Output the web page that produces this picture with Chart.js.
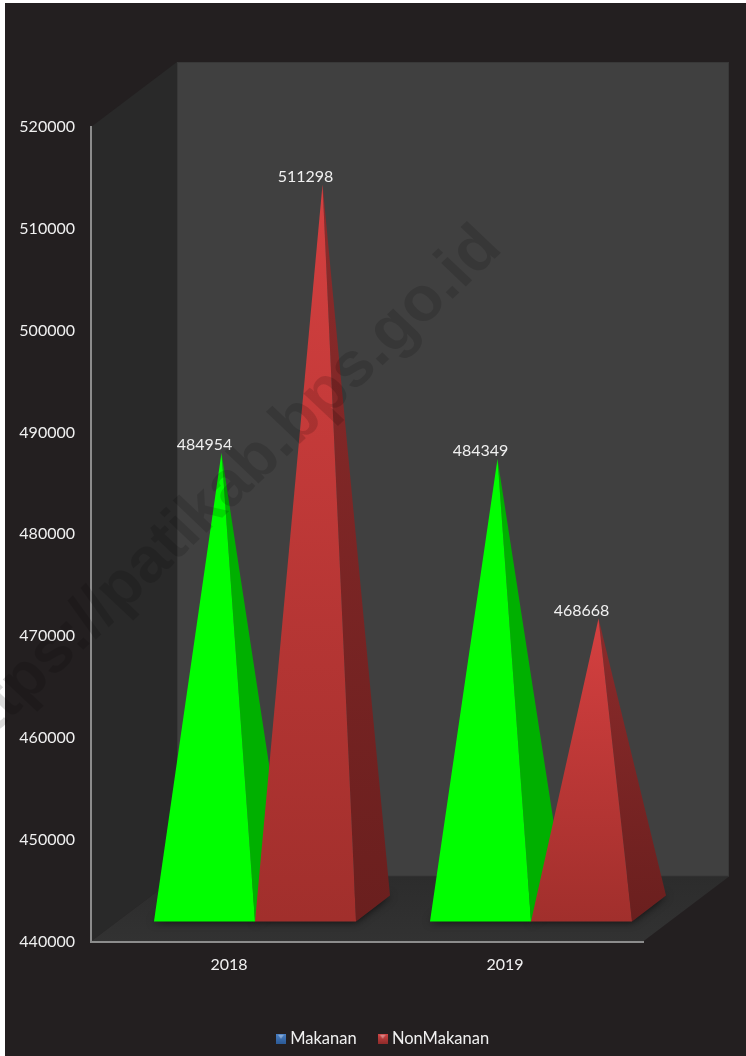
<!DOCTYPE html>
<html lang="en">
<head>
    <meta charset="UTF-8">
    <title>Makanan / NonMakanan</title>
    <script src="https://cdn.jsdelivr.net/npm/chart.js"></script>
    <style>
        html, body { margin: 0; padding: 0; background: #fff; }
        canvas { display: block; }
    </style>
</head>
<body>
    <canvas id="chart" width="746" height="1056"></canvas>
    <script>
        const categories = ['2018', '2019'];
        const makanan = [484954, 484349];
        const nonMakanan = [511298, 468668];
        const seriesNames = ['Makanan', 'NonMakanan'];
        const yTicks = { min: 440000, max: 520000, step: 10000 };

        // 3D look of the box and the pyramids, in px
        const WALL_DX = 86, WALL_DY = 65;
        const FLOOR_GAP_X = 26, FLOOR_GAP_Y = 20;
        const BASE_DX = 34, BASE_DY = 26;
        const APEX_DROP = 31;

        const textColor = '#f0f0f0';
        const looks = [
            { front: ['#00ff00', '#00ff00'], side: ['#00b000', '#00b000'] },
            { front: ['#d54040', '#a12f2c'], side: ['#8c2b2b', '#6a1f1e'] }
        ];

        const poly = (ctx, pts) => {
            ctx.beginPath();
            pts.forEach((p, i) => i ? ctx.lineTo(p[0], p[1]) : ctx.moveTo(p[0], p[1]));
            ctx.closePath();
        };

        const vGrad = (ctx, y0, y1, colors) => {
            const g = ctx.createLinearGradient(0, y0, 0, y1);
            g.addColorStop(0, colors[0]);
            g.addColorStop(1, colors[1]);
            return g;
        };

        // small square legend marker, gradient with a light notch on top
        const marker = (dark, light) => {
            const c = document.createElement('canvas');
            c.width = 10;
            c.height = 10;
            const m = c.getContext('2d');
            m.fillStyle = vGrad(m, 0, 10, [light, dark]);
            m.fillRect(0, 0, 10, 10);
            m.fillStyle = 'rgba(255,255,255,0.35)';
            poly(m, [[2, 1], [8, 1], [5, 5]]);
            m.fill();
            return c;
        };
        const markers = [marker('#2c5a96', '#4a80c4'), marker('#8f2b2a', '#d04646')];

        const boxPlugin = {
            id: 'box',
            afterLayout(chart) {
                // legend is centred under the whole box, not under the axes
                chart.legend.left += 126;
                chart.legend.top += 1;
            },
            beforeDraw(chart) {
                const { ctx, chartArea: a } = chart;
                ctx.save();
                ctx.fillStyle = '#231f20';
                ctx.fillRect(5, 3, chart.width - 5, chart.height - 3);

                ctx.fillStyle = '#404040';
                ctx.fillRect(a.left + WALL_DX, a.top - WALL_DY, a.width, a.height);
                ctx.strokeStyle = '#383838';
                ctx.lineWidth = 1;
                ctx.strokeRect(a.left + WALL_DX + 0.5, a.top - WALL_DY + 0.5, a.width - 1, a.height - 1);

                ctx.fillStyle = '#292929';
                poly(ctx, [[a.left, a.top], [a.left + WALL_DX, a.top - WALL_DY],
                    [a.left + WALL_DX, a.bottom - WALL_DY], [a.left, a.bottom]]);
                ctx.fill();

                ctx.fillStyle = vGrad(ctx, a.bottom - WALL_DY, a.bottom, ['#2c2c2c', '#323232']);
                poly(ctx, [[a.left, a.bottom], [a.right, a.bottom],
                    [a.right + WALL_DX, a.bottom - WALL_DY], [a.left + WALL_DX, a.bottom - WALL_DY]]);
                ctx.fill();
                ctx.restore();
            }
        };

        const pyramidPlugin = {
            id: 'pyramids',
            afterDatasetsDraw(chart) {
                const { ctx, scales } = chart;
                const baseY = scales.y.getPixelForValue(yTicks.min) - FLOOR_GAP_Y;
                const bars = [];
                chart.data.datasets.forEach((ds, d) => {
                    chart.getDatasetMeta(d).data.forEach((bar, i) => {
                        const left = bar.x - bar.width / 2 + FLOOR_GAP_X;
                        bars.push({
                            d, left, right: left + bar.width,
                            apexX: bar.x + FLOOR_GAP_X + BASE_DX / 2,
                            apexY: bar.y - APEX_DROP,
                            labelX: bar.x + FLOOR_GAP_X,
                            value: ds.data[i]
                        });
                    });
                });

                ctx.save();
                // soft shadow on the floor first
                bars.forEach(b => {
                    ctx.save();
                    ctx.shadowColor = 'rgba(0,0,0,0.75)';
                    ctx.shadowBlur = 9;
                    ctx.fillStyle = '#252525';
                    poly(ctx, [[b.left, baseY], [b.right, baseY],
                        [b.right + BASE_DX, baseY - BASE_DY], [b.left + BASE_DX, baseY - BASE_DY]]);
                    ctx.fill();
                    ctx.restore();
                });
                bars.forEach(b => {
                    const look = looks[b.d];
                    ctx.fillStyle = vGrad(ctx, b.apexY, baseY, look.side);
                    poly(ctx, [[b.apexX, b.apexY], [b.right, baseY], [b.right + BASE_DX, baseY - BASE_DY]]);
                    ctx.fill();
                    ctx.fillStyle = vGrad(ctx, b.apexY, baseY, look.front);
                    poly(ctx, [[b.apexX, b.apexY], [b.left, baseY], [b.right, baseY]]);
                    ctx.fill();
                });
                ctx.fillStyle = textColor;
                ctx.font = '16px Lato';
                ctx.textAlign = 'center';
                ctx.textBaseline = 'middle';
                bars.forEach(b => ctx.fillText(String(b.value), b.labelX, b.apexY - 8));
                ctx.restore();
            }
        };

        const watermarkPlugin = {
            id: 'watermark',
            afterDraw(chart) {
                const { ctx } = chart;
                ctx.save();
                // 45 degree text, squeezed a little vertically like the source page
                ctx.translate(504, 250);
                ctx.scale(1, 0.95);
                ctx.rotate(-45 * Math.PI / 180);
                ctx.font = 'bold 66px "Liberation Sans"';
                ctx.fillStyle = 'rgba(0,0,0,0.14)';
                ctx.textAlign = 'right';
                ctx.textBaseline = 'alphabetic';
                ctx.fillText('https://patikab.bps.go.id', 0, 0);
                ctx.restore();
            }
        };

        Chart.defaults.font.family = 'Lato';
        Chart.defaults.font.size = 16;
        Chart.defaults.color = textColor;

        new Chart(document.getElementById('chart'), {
            type: 'bar',
            data: {
                labels: categories,
                datasets: [
                    { label: seriesNames[0], data: makanan, backgroundColor: 'transparent' },
                    { label: seriesNames[1], data: nonMakanan, backgroundColor: 'transparent' }
                ]
            },
            options: {
                responsive: false,
                animation: false,
                categoryPercentage: 0.732,
                barPercentage: 1,
                layout: { padding: { left: 0, right: 103, top: 127, bottom: 0 } },
                plugins: {
                    tooltip: { enabled: false },
                    legend: {
                        position: 'bottom',
                        labels: {
                            usePointStyle: true,
                            boxWidth: 2,
                            padding: 25,
                            color: textColor,
                            font: { size: 16.5 },
                            generateLabels: (chart) => chart.data.datasets.map((ds, i) => ({
                                text: ds.label,
                                fontColor: textColor,
                                pointStyle: markers[i],
                                lineWidth: 0,
                                datasetIndex: i
                            }))
                        }
                    }
                },
                scales: {
                    x: {
                        grid: { display: true, drawOnChartArea: false, drawTicks: false },
                        border: { color: '#8c8c8c', width: 2 },
                        ticks: { padding: 14, color: textColor, maxRotation: 0 },
                        afterFit: (s) => { s.height = 63; }
                    },
                    y: {
                        min: yTicks.min,
                        max: yTicks.max,
                        grid: { display: true, drawOnChartArea: false, drawTicks: false },
                        border: { color: '#8c8c8c', width: 2 },
                        ticks: {
                            stepSize: yTicks.step,
                            padding: 16,
                            color: textColor,
                            callback: (v) => String(v)
                        },
                        afterFit: (s) => { s.width = 91; }
                    }
                }
            },
            plugins: [boxPlugin, pyramidPlugin, watermarkPlugin]
        });
    </script>
</body>
</html>
